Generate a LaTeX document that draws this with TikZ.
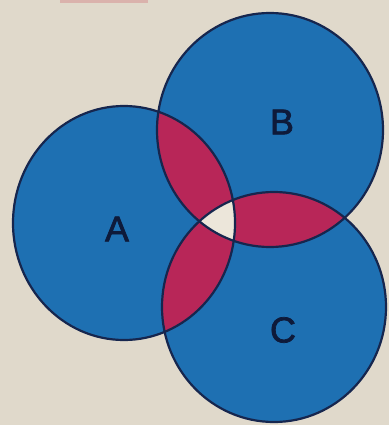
\documentclass[tikz,border=0pt]{standalone}
\usepackage{fontspec}
\setmainfont{Liberation Sans}
\definecolor{bg}{RGB}{224,217,203}
\definecolor{vblue}{RGB}{30,112,178}
\definecolor{vred}{RGB}{184,38,88}
\definecolor{vwhite}{RGB}{236,230,218}
\definecolor{vline}{RGB}{22,38,78}
\definecolor{vtext}{RGB}{14,26,58}
\definecolor{tab}{RGB}{218,178,172}
\newcommand{\heavy}[1]{\special{pdf:literal 2 Tr 0.7 w}#1\special{pdf:literal 0 Tr}}
\begin{document}
\begin{tikzpicture}[x=1pt,y=-1pt,
  outline/.style={draw=vline,line width=2.2pt},
  lbl/.style={text=vtext,font=\fontsize{36}{36}\selectfont,inner sep=0pt}]
\fill[bg] (0,0) rectangle (389,425);
\useasboundingbox (0,0) rectangle (389,425);
\fill[tab] (60,-6) rectangle (148,3);
\def\cA{(124,223) ellipse [x radius=111,y radius=117]}
\def\cB{(270,130) ellipse [x radius=113,y radius=117]}
\def\cC{(274,307) ellipse [x radius=112,y radius=115]}
\fill[vblue] \cA; \fill[vblue] \cB; \fill[vblue] \cC;
\begin{scope}\clip \cA; \fill[vred] \cB; \end{scope}
\begin{scope}\clip \cA; \fill[vred] \cC; \end{scope}
\begin{scope}\clip \cB; \fill[vred] \cC; \end{scope}
\begin{scope}\clip \cA; \clip \cB; \fill[vwhite] \cC; \end{scope}
\draw[outline] \cA; \draw[outline] \cB; \draw[outline] \cC;
\node[lbl] (A) at (117,229) {\heavy{A}};
\node[lbl] (B) at (282,122) {\heavy{B}};
\node[lbl] (C) at (283,330) {\heavy{C}};
\end{tikzpicture}
\end{document}
